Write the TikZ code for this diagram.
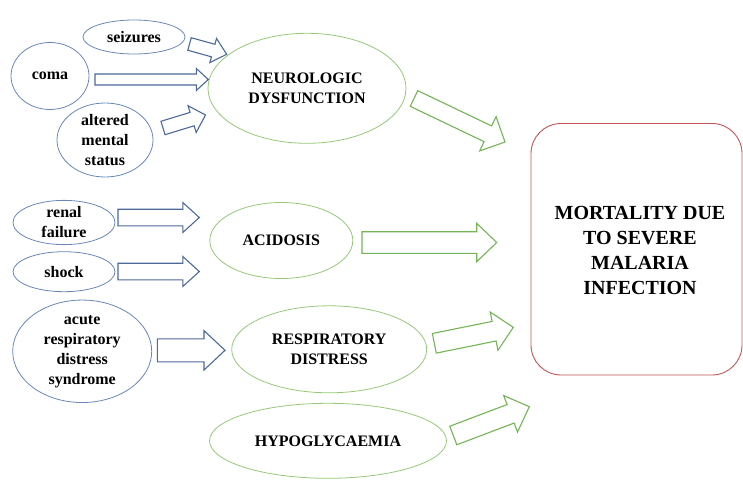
\documentclass[tikz,border=0pt]{standalone}
\usepackage{fontspec}
\setmainfont{Liberation Serif}
\usetikzlibrary{calc,shapes.geometric}
\definecolor{bluee}{RGB}{105,135,185}
\definecolor{bluea}{RGB}{75,105,155}
\definecolor{greene}{RGB}{150,200,120}
\definecolor{greena}{RGB}{115,180,85}
\definecolor{redr}{RGB}{195,85,85}
\newcommand\blockarr[6]{%
  \draw[#1] let \p1=(#2), \p2=(#3), \n1={atan2(\y2-\y1,\x2-\x1)}, \n2={veclen(\x2-\x1,\y2-\y1)} in
  {[shift={(\p1)}, rotate=\n1] (0,#4) -- ({\n2-#6},#4) -- ({\n2-#6},#5) -- (\n2,0) -- ({\n2-#6},-#5) -- ({\n2-#6},-#4) -- (0,-#4) -- cycle};
}
\tikzset{
  blueell/.style={ellipse, draw=bluee, line width=0.8pt, inner sep=0pt, align=center, font=\bfseries\fontsize{16}{20}\selectfont},
  greenell/.style={ellipse, draw=greene, line width=0.8pt, inner sep=0pt, align=center, font=\bfseries\fontsize{16}{20}\selectfont},
  bluearr/.style={draw=bluea, line width=1.1pt, line join=miter},
  greenarr/.style={draw=greena, line width=1.1pt, line join=miter},
  mortbox/.style={draw=redr, line width=0.9pt, rounded corners=30pt, align=center, font=\bfseries\fontsize{20}{25}\selectfont}
}
\begin{document}
\begin{tikzpicture}[x=1pt,y=-1pt]
\useasboundingbox (0,0) rectangle (743,481);
% blue source ellipses
\node[blueell, minimum width=102pt, minimum height=34pt] (seiz) at (134,37) {seizures};
\node[blueell, minimum width=78pt, minimum height=67pt] (coma) at (50,76) {coma};
\node[blueell, minimum width=96pt, minimum height=74pt] (alt) at (105,140) {altered\\mental\\status};
\node[blueell, minimum width=102pt, minimum height=42pt] (renal) at (64,222.5) {renal\\failure};
\node[blueell, minimum width=102pt, minimum height=40pt] (shock) at (64,271.7) {shock};
\node[blueell, minimum width=139pt, minimum height=91pt] (ards) at (82.2,351.3) {acute\\respiratory\\distress\\syndrome};
% green ellipses
\node[greenell, minimum width=198pt, minimum height=110pt] (neuro) at (307,88.3) {NEUROLOGIC\\DYSFUNCTION};
\node[greenell, minimum width=143pt, minimum height=76pt] (acid) at (281.3,240.5) {ACIDOSIS};
\node[greenell, minimum width=195pt, minimum height=87pt] (resp) at (329.2,349.3) {RESPIRATORY\\DISTRESS};
\node[greenell, minimum width=237pt, minimum height=75pt] (hypo) at (328,440.8) {HYPOGLYCAEMIA};
% mortality box
\draw[mortbox] (531,123.5) rectangle (742,375);
\node[align=center, font=\bfseries\fontsize{20}{25}\selectfont] (mort) at (640,250.8) {MORTALITY DUE\\TO SEVERE\\MALARIA\\INFECTION};
% arrow end points
\coordinate (a1t) at (189.5,44);   \coordinate (a1h) at (226.7,54.3);
\coordinate (a2t) at (95,79.5);    \coordinate (a2h) at (208.3,79.5);
\coordinate (a3t) at (163,128);    \coordinate (a3h) at (205.5,115);
\coordinate (a4t) at (118,217.5);  \coordinate (a4h) at (199.3,217.5);
\coordinate (a5t) at (118,271.5);  \coordinate (a5h) at (199.3,271.5);
\coordinate (a6t) at (157.3,350.3);\coordinate (a6h) at (225,350.3);
\coordinate (g1t) at (414,98.5);   \coordinate (g1h) at (505,142);
\coordinate (g2t) at (362,242.5);  \coordinate (g2h) at (496.7,242.5);
\coordinate (g3t) at (434.3,343.3);\coordinate (g3h) at (513.3,327.3);
\coordinate (g4t) at (453.3,435.5);\coordinate (g4h) at (529.3,406.7);
% blue arrows
\blockarr{bluearr}{a1t}{a1h}{6.5}{12.5}{14}
\blockarr{bluearr}{a2t}{a2h}{5.5}{11}{12}
\blockarr{bluearr}{a3t}{a3h}{7}{14}{14}
\blockarr{bluearr}{a4t}{a4h}{8.3}{15}{16.5}
\blockarr{bluearr}{a5t}{a5h}{8.3}{15}{16.5}
\blockarr{bluearr}{a6t}{a6h}{11.5}{19.7}{21}
% green arrows
\blockarr{greenarr}{g1t}{g1h}{8.7}{19}{19}
\blockarr{greenarr}{g2t}{g2h}{10.8}{19.2}{20}
\blockarr{greenarr}{g3t}{g3h}{10}{19.5}{19.6}
\blockarr{greenarr}{g4t}{g4h}{9.9}{19.5}{20}
\end{tikzpicture}
\end{document}
